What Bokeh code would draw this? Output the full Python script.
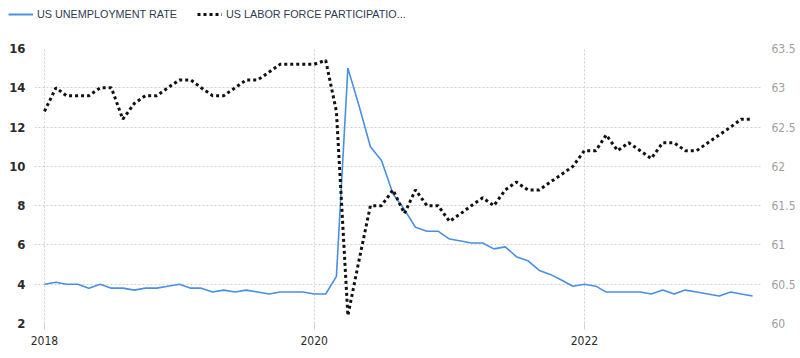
import pandas as pd
from bokeh.plotting import figure
from bokeh.layouts import column
from bokeh.models import (Range1d, LinearAxis, FixedTicker, CustomJSTickFormatter,
                          Legend, LegendItem, DatetimeTickFormatter)
from bokeh.embed import file_html
from bokeh.resources import INLINE

# ---- data (monthly, Jan 2018 - Apr 2023) ----
start_month = "2018-01-01"
unemployment = [
    4.0, 4.1, 4.0, 4.0, 3.8, 4.0, 3.8, 3.8, 3.7, 3.8, 3.8, 3.9,   # 2018
    4.0, 3.8, 3.8, 3.6, 3.7, 3.6, 3.7, 3.6, 3.5, 3.6, 3.6, 3.6,   # 2019
    3.5, 3.5, 4.4, 15.0, 13.1, 11.0, 10.3, 8.6, 7.8, 6.9, 6.7, 6.7,  # 2020
    6.3, 6.2, 6.1, 6.1, 5.8, 5.9, 5.4, 5.2, 4.7, 4.5, 4.2, 3.9,   # 2021
    4.0, 3.9, 3.6, 3.6, 3.6, 3.6, 3.5, 3.7, 3.5, 3.7, 3.6, 3.5,   # 2022
    3.4, 3.6, 3.5, 3.4,                                           # 2023
]
participation = [
    62.7, 63.0, 62.9, 62.9, 62.9, 63.0, 63.0, 62.6, 62.8, 62.9, 62.9, 63.0,   # 2018
    63.1, 63.1, 63.0, 62.9, 62.9, 63.0, 63.1, 63.1, 63.2, 63.3, 63.3, 63.3,   # 2019
    63.3, 63.35, 62.7, 60.1, 60.8, 61.5, 61.5, 61.7, 61.4, 61.7, 61.5, 61.5,  # 2020
    61.3, 61.4, 61.5, 61.6, 61.5, 61.7, 61.8, 61.7, 61.7, 61.8, 61.9, 62.0,   # 2021
    62.2, 62.2, 62.4, 62.2, 62.3, 62.2, 62.1, 62.3, 62.3, 62.2, 62.2, 62.3,   # 2022
    62.4, 62.5, 62.6, 62.6,                                                   # 2023
]
year_ticks = ["2018", "2020", "2022"]
left_ticks = [2, 4, 6, 8, 10, 12, 14, 16]
right_ticks = [60, 60.5, 61, 61.5, 62, 62.5, 63, 63.5]
series_names = ["US UNEMPLOYMENT RATE", "US LABOR FORCE PARTICIPATIO..."]

dates = pd.date_range(start_month, periods=len(unemployment), freq="MS")

FONT = "Liberation Sans Narrow, DejaVu Sans Condensed, Arial Narrow, sans-serif"
GRID = "#cfcfcf"
BLUE = "#4a8fe2"
DOTS = "#111111"

x_start = pd.Timestamp("2017-12-05")
x_end = pd.Timestamp("2023-04-28")

# ---- legend strip (series drawn out of its view; only the legend shows) ----
lg = figure(width=800, height=30, x_range=Range1d(0, 1), y_range=Range1d(0, 1),
            output_backend="svg", toolbar_location=None,
            x_axis_location=None, y_axis_location=None,
            min_border_left=0, min_border_right=0, min_border_top=0, min_border_bottom=0)
lg.min_border = 0
lg.frame_align = False
lg.outline_line_color = None
lg.grid.visible = False
d1 = lg.line(dates, unemployment, line_color=BLUE, line_width=2)
d2 = lg.line(dates, participation, line_color=DOTS, line_width=3, line_dash="3 3")
legend = Legend(items=[LegendItem(label=series_names[0], renderers=[d1]),
                       LegendItem(label=series_names[1], renderers=[d2])],
                orientation="horizontal", location=(8, 10))
legend.padding = 0
legend.margin = 0
legend.spacing = 20
legend.glyph_width = 25
legend.glyph_height = 10
legend.label_standoff = 4
legend.border_line_color = None
legend.background_fill_alpha = 0
legend.label_text_font = "Liberation Sans, Arial, sans-serif"
legend.label_text_font_size = "10.8px"
legend.label_text_color = "#2d3b4f"
legend.label_height = 10
lg.add_layout(legend, "center")

# ---- main chart ----
p = figure(width=800, height=328, x_axis_type="datetime",
           x_range=Range1d(x_start, x_end), y_range=Range1d(2, 16),
           output_backend="svg", toolbar_location=None,
           min_border_left=34, min_border_right=38,
           min_border_top=18, min_border_bottom=35)
p.frame_align = False
p.outline_line_color = None
p.background_fill_color = "white"
p.border_fill_color = "white"

p.extra_y_ranges = {"lfpr": Range1d(60, 63.5)}

# x axis
tick_ms = [pd.Timestamp(f"{y}-01-01").value / 1e6 for y in year_ticks]
p.xaxis.ticker = FixedTicker(ticks=tick_ms)
p.xaxis.formatter = DatetimeTickFormatter(years="%Y", months="%Y", days="%Y")
p.xaxis.axis_line_color = None
p.xaxis.major_tick_line_color = GRID
p.xaxis.major_tick_out = 6
p.xaxis.major_tick_in = 0
p.xaxis.minor_tick_line_color = None
p.xaxis.major_label_standoff = 6
p.xaxis.major_label_text_font = FONT
p.xaxis.major_label_text_font_size = "12px"
p.xaxis.major_label_text_color = "#2b2b2b"

# left axis
p.yaxis.ticker = FixedTicker(ticks=left_ticks)
p.yaxis.axis_line_color = None
p.yaxis.major_tick_line_color = None
p.yaxis.minor_tick_line_color = None
p.yaxis.major_label_standoff = 3
p.yaxis.major_label_text_font = FONT
p.yaxis.major_label_text_font_size = "13px"
p.yaxis.major_label_text_font_style = "bold"
p.yaxis.major_label_text_color = "#2b2b2b"

# right axis
ra = LinearAxis(y_range_name="lfpr", ticker=FixedTicker(ticks=right_ticks),
                formatter=CustomJSTickFormatter(code="return tick.toString();"))
ra.axis_line_color = None
ra.major_tick_line_color = None
ra.minor_tick_line_color = None
ra.major_label_standoff = 3
ra.major_label_text_font = FONT
ra.major_label_text_font_size = "12px"
ra.major_label_text_color = "#a0a0a0"
p.add_layout(ra, "right")

# grids
p.xgrid.grid_line_color = GRID
p.xgrid.grid_line_dash = "2 2"
p.ygrid.grid_line_color = GRID
p.ygrid.grid_line_dash = "2 2"

# series
p.line(dates, unemployment, line_color=BLUE, line_width=1.6)
p.line(dates, participation, y_range_name="lfpr", line_color=DOTS,
       line_width=3, line_dash="3 3")

layout = column(lg, p, spacing=0)
open("out.html", "w").write(file_html(layout, INLINE))
